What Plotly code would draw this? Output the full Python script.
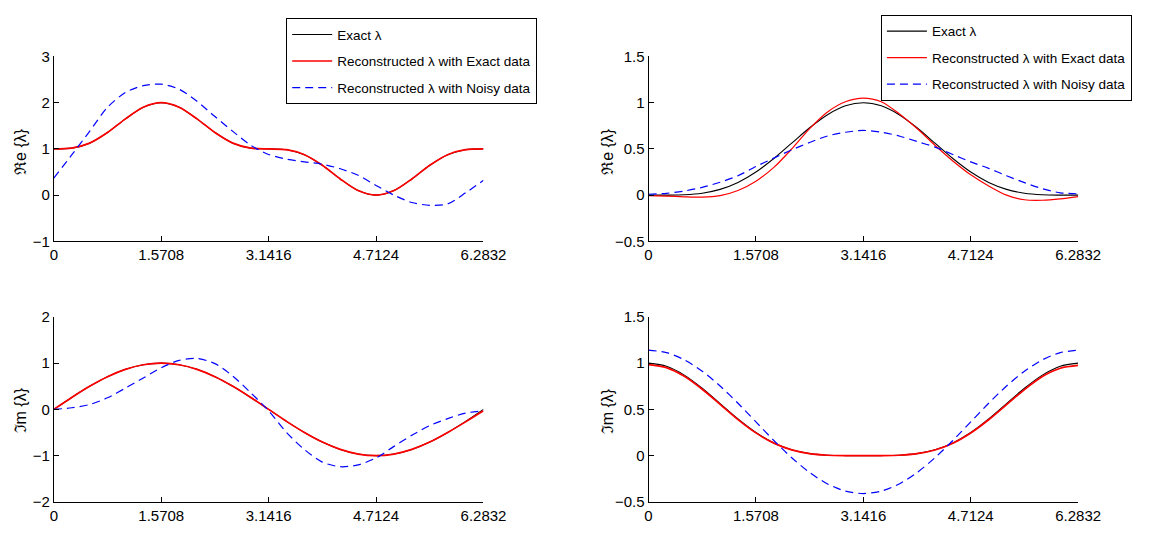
import plotly.graph_objects as go

# ---------------- data ----------------
X = [0.0, 0.2618, 0.5236, 0.7854, 1.0472, 1.309, 1.5708, 1.8326, 2.0944, 2.3562,
     2.618, 2.8798, 3.1416, 3.4034, 3.6652, 3.927, 4.1888, 4.4506, 4.7124, 4.9742,
     5.236, 5.4978, 5.7596, 6.0214, 6.2832]

X_TICKS = [0, 1.5708, 3.1416, 4.7124, 6.2832]
X_TICK_TEXT = ["0", "1.5708", "3.1416", "4.7124", "6.2832"]

# Case 1 (left column)
re1_exact = [1.0, 1.017, 1.125, 1.354, 1.650, 1.901, 2.0, 1.901, 1.650, 1.354, 1.125, 1.017,
             1.0, 0.983, 0.875, 0.646, 0.350, 0.099, 0.0, 0.099, 0.350, 0.646, 0.875, 0.983, 1.0]
re1_rec = [1.0, 1.017, 1.125, 1.354, 1.650, 1.901, 2.0, 1.901, 1.650, 1.354, 1.125, 1.017,
           1.0, 0.983, 0.875, 0.646, 0.350, 0.099, 0.0, 0.099, 0.350, 0.646, 0.875, 0.983, 1.0]
re1_noisy = [0.37, 0.87, 1.38, 1.90, 2.22, 2.37, 2.40, 2.29, 2.03, 1.70, 1.38, 1.08,
             0.88, 0.78, 0.72, 0.67, 0.57, 0.43, 0.21, 0.0, -0.16, -0.22, -0.19, 0.05, 0.32]

im1_exact = [0.0, 0.2588, 0.5, 0.7071, 0.866, 0.9659, 1.0, 0.9659, 0.866, 0.7071, 0.5, 0.2588,
             0.0, -0.2588, -0.5, -0.7071, -0.866, -0.9659, -1.0, -0.9659, -0.866, -0.7071, -0.5, -0.2588, 0.0]
im1_rec = [0.0, 0.2588, 0.5, 0.7071, 0.866, 0.9659, 1.0, 0.9659, 0.866, 0.7071, 0.5, 0.2588,
           0.0, -0.2588, -0.5, -0.7071, -0.866, -0.9659, -1.0, -0.9659, -0.866, -0.7071, -0.5, -0.27, -0.03]
im1_noisy = [0.0, 0.035, 0.105, 0.25, 0.46, 0.68, 0.90, 1.06, 1.10, 0.99, 0.72, 0.36,
             -0.03, -0.50, -0.87, -1.14, -1.24, -1.20, -1.05, -0.80, -0.56, -0.35, -0.20, -0.08, -0.03]

# Case 2 (right column)
re2_exact = [0.0, 0.0003, 0.0045, 0.0214, 0.0625, 0.1373, 0.25, 0.3961, 0.5625, 0.7286, 0.8705, 0.9662,
             1.0, 0.9662, 0.8705, 0.7286, 0.5625, 0.3961, 0.25, 0.1373, 0.0625, 0.0214, 0.0045, 0.0003, 0.0]
re2_rec = [-0.005, -0.01, -0.018, -0.022, -0.005, 0.05, 0.15, 0.30, 0.50, 0.72, 0.90, 1.01,
           1.05, 1.01, 0.88, 0.72, 0.54, 0.37, 0.22, 0.10, 0.0, -0.05, -0.055, -0.04, -0.015]
re2_noisy = [0.01, 0.02, 0.045, 0.085, 0.14, 0.21, 0.31, 0.40, 0.49, 0.57, 0.64, 0.68,
             0.70, 0.68, 0.64, 0.58, 0.52, 0.44, 0.36, 0.29, 0.21, 0.135, 0.07, 0.025, 0.015]

im2_exact = [1.0, 0.9662, 0.8705, 0.7286, 0.5625, 0.3961, 0.25, 0.1373, 0.0625, 0.0214, 0.0045, 0.0003,
             0.0, 0.0003, 0.0045, 0.0214, 0.0625, 0.1373, 0.25, 0.3961, 0.5625, 0.7286, 0.8705, 0.9662, 1.0]
im2_rec = [0.985, 0.952, 0.858, 0.718, 0.555, 0.390, 0.246, 0.135, 0.062, 0.021, 0.004, 0.0,
           0.0, 0.0, 0.004, 0.021, 0.061, 0.134, 0.245, 0.388, 0.552, 0.714, 0.855, 0.945, 0.975]
im2_noisy = [1.14, 1.114, 1.036, 0.913, 0.753, 0.566, 0.365, 0.164, -0.023, -0.183, -0.306, -0.384,
             -0.41, -0.384, -0.306, -0.183, -0.023, 0.164, 0.365, 0.566, 0.753, 0.913, 1.036, 1.114, 1.14]

NAMES = ["Exact λ", "Reconstructed λ with Exact data", "Reconstructed λ with Noisy data"]
Y_TITLES = ["ℜe {λ}", "ℑm {λ}"]

# ---------------- figure ----------------
W, H = 1150, 536
FONT = "Liberation Sans, Arial, Helvetica, sans-serif"
BLACK, RED, BLUE = "#000000", "#ff0000", "#0000ff"

fig = go.Figure()

panels = [
    # (xaxis, yaxis, series, legend, show)
    ("x", "y", (re1_exact, re1_rec, re1_noisy), "legend", True),
    ("x2", "y2", (re2_exact, re2_rec, re2_noisy), "legend2", True),
    ("x3", "y3", (im1_exact, im1_rec, im1_noisy), "legend", False),
    ("x4", "y4", (im2_exact, im2_rec, im2_noisy), "legend2", False),
]
styles = [
    dict(color=BLACK, width=1.1, dash="solid"),
    dict(color=RED, width=1.7, dash="solid"),
    dict(color=BLUE, width=1.2, dash="8px,5px"),
]
for pi, (xa, ya, series, leg, show) in enumerate(panels):
    for si, ys in enumerate(series):
        st = styles[si]
        w = st["width"]
        if pi == 1 and si == 1:
            w = 1.2
        fig.add_trace(go.Scatter(
            x=X, y=ys, xaxis=xa, yaxis=ya, mode="lines", name=NAMES[si],
            line=dict(color=st["color"], width=w, dash=st["dash"],
                      shape="spline", smoothing=0.8),
            legend=leg, showlegend=show, legendgroup=f"p{pi}s{si}",
            hoverinfo="skip"))


def px_x(v):
    return v / W


def px_y(v):
    return 1 - v / H


LEFT_X = [px_x(51), px_x(491)]
RIGHT_X = [px_x(660), px_x(1100)]
TOP_Y = [px_y(240), px_y(49)]
BOT_Y = [px_y(509), px_y(318)]

axis_common = dict(showline=True, linecolor="#000", linewidth=1, ticks="inside",
                   ticklen=5, tickcolor="#000", showgrid=False, zeroline=False,
                   tickfont=dict(family=FONT, size=15, color="#000"), fixedrange=True)


def xax(domain, anchor):
    return dict(domain=domain, anchor=anchor, range=[0, 6.28318], tickmode="array",
                tickvals=X_TICKS, ticktext=X_TICK_TEXT, **axis_common)


def yax(domain, anchor, rng, tv):
    return dict(domain=domain, anchor=anchor, range=rng, tickmode="array",
                tickvals=tv, **axis_common)


legend_common = dict(xref="paper", yref="paper", xanchor="left", yanchor="top",
                     bgcolor="white", bordercolor="#000", borderwidth=1,
                     font=dict(family=FONT, size=13.5, color="#000"),
                     tracegroupgap=6, itemwidth=40)

fig.update_layout(
    width=W, height=H, margin=dict(l=0, r=0, t=0, b=0),
    paper_bgcolor="white", plot_bgcolor="white", showlegend=True,
    xaxis=xax(LEFT_X, "y"), yaxis=yax(TOP_Y, "x", [-1, 3], [-1, 0, 1, 2, 3]),
    xaxis2=xax(RIGHT_X, "y2"), yaxis2=yax(TOP_Y, "x2", [-0.5, 1.5], [-0.5, 0, 0.5, 1, 1.5]),
    xaxis3=xax(LEFT_X, "y3"), yaxis3=yax(BOT_Y, "x3", [-2, 2], [-2, -1, 0, 1, 2]),
    xaxis4=xax(RIGHT_X, "y4"), yaxis4=yax(BOT_Y, "x4", [-0.5, 1.5], [-0.5, 0, 0.5, 1, 1.5]),
    legend=dict(x=px_x(289), y=px_y(9.5), **legend_common),
    legend2=dict(x=px_x(898), y=px_y(6), **legend_common),
)

title_pos = [
    (px_x(17), px_y(147), Y_TITLES[0]),
    (px_x(618), px_y(147), Y_TITLES[0]),
    (px_x(17), px_y(415), Y_TITLES[1]),
    (px_x(618), px_y(415), Y_TITLES[1]),
]
for xp, yp, txt in title_pos:
    fig.add_annotation(x=xp, y=yp, xref="paper", yref="paper", text=txt, showarrow=False,
                       textangle=-90, xanchor="center", yanchor="middle",
                       font=dict(family=FONT, size=16, color="#000"))

fig.write_html(
    "out.html",
    config={"displayModeBar": False, "staticPlot": True},
    post_script="document.body.style.margin='0';document.body.style.padding='0';"
                "document.body.style.overflow='hidden';",
)
